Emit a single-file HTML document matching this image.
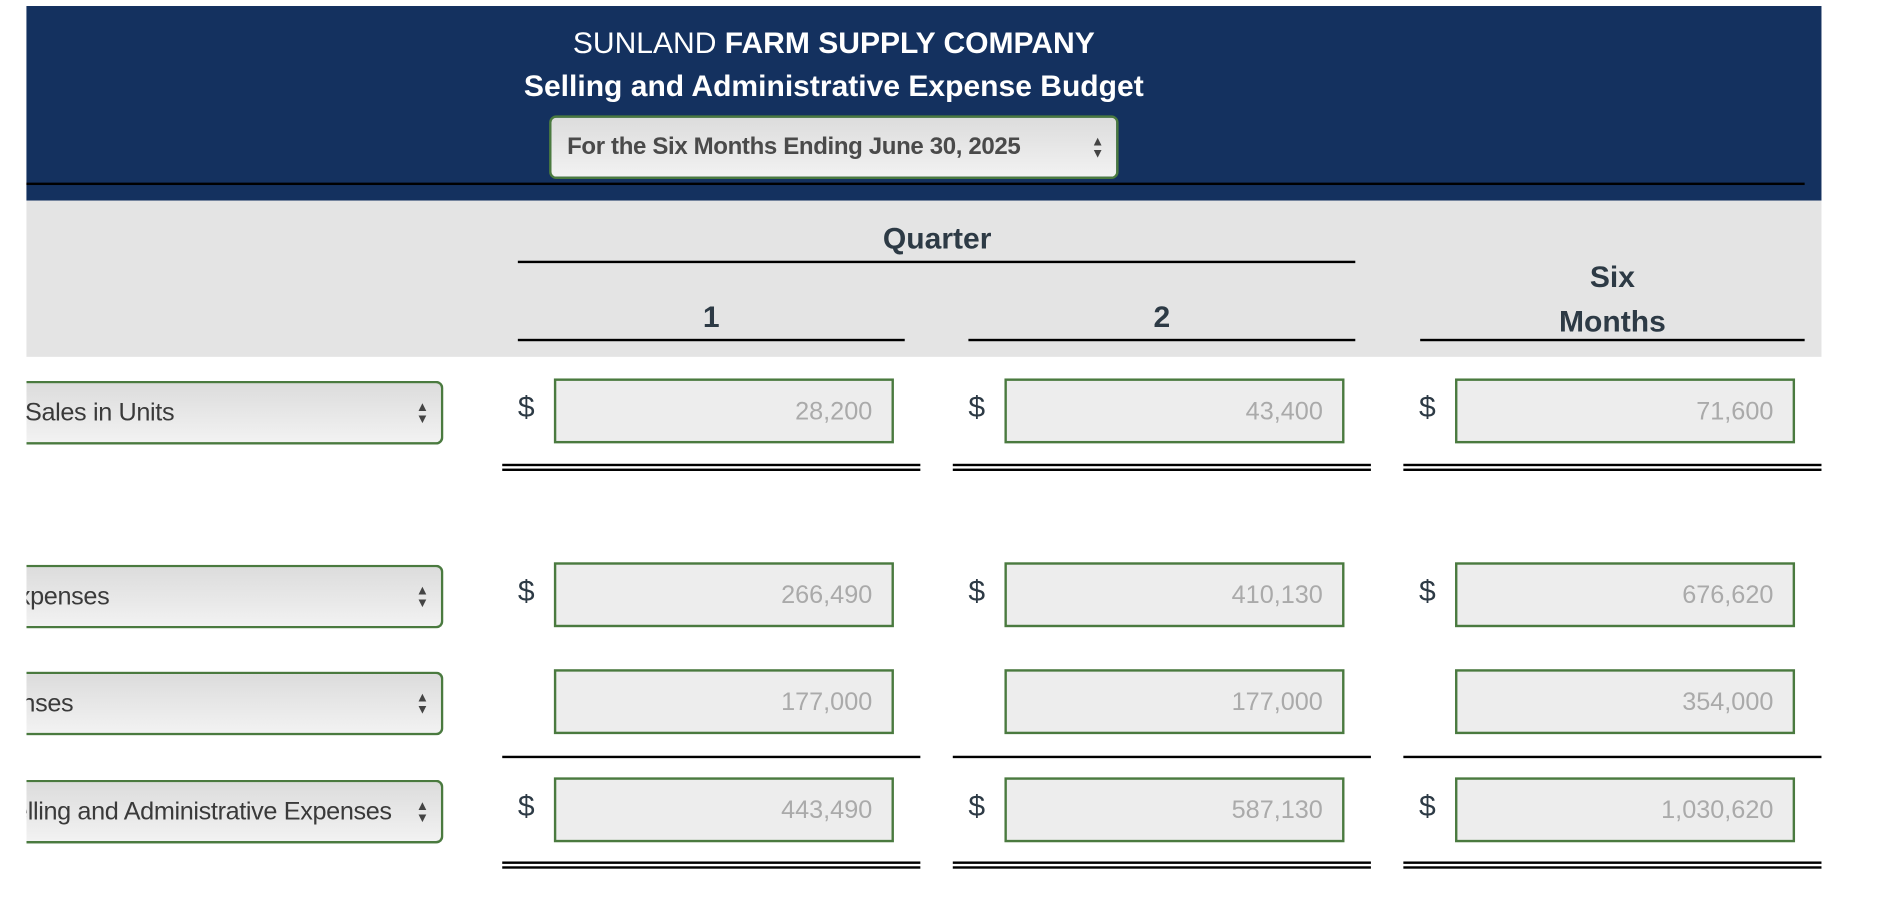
<!DOCTYPE html>
<html><head><meta charset="utf-8">
<style>
html,body{margin:0;padding:0;background:#fff;width:1884px;height:916px;overflow:hidden}
#wrap{position:absolute;left:0;top:0;width:1568px;height:763px;transform:scale(1.2015);transform-origin:0 0;font-family:"Liberation Sans",sans-serif}
.abs{position:absolute}
.hdr{left:22px;top:5px;width:1494px;height:162px;background:#14315f}
.t1{left:300px;width:788px;text-align:center;color:#fff;font-size:25px}
.sel{background:linear-gradient(#dcdcdc,#e8e8e8 55%,#f2f2f2);border:2px solid #4a7a3f;border-radius:6px;box-sizing:border-box;overflow:hidden}
.arrow{position:absolute;right:10px;top:50%;transform:translateY(-50%);font-size:11px;line-height:10px;color:#444;text-align:center}
.band{left:22px;top:167px;width:1494px;height:130px;background:#e4e4e4}
.hd{color:#2d3a45;font-weight:bold;font-size:25px;text-align:center}
.line{background:#000;height:2px}
.box{background:#ededed;border:2px solid #4a7a3f;box-sizing:border-box;color:#aaa;font-size:21px;text-align:right;padding-right:16px}
.dol{color:#2d3a45;font-size:25px}
</style></head><body>
<div id="wrap">
<div class="abs hdr"></div>
<div class="abs t1" style="top:22px">SUNLAND <b>FARM SUPPLY COMPANY</b></div>
<div class="abs t1" style="top:58px;font-weight:bold">Selling and Administrative Expense Budget</div>
<div class="abs sel" style="left:457px;top:96px;width:474px;height:53px">
<span class="abs" style="left:13px;top:13px;font-size:20px;font-weight:bold;color:#4a4a4a;white-space:nowrap;letter-spacing:-0.3px">For the Six Months Ending June 30, 2025</span>
<span class="arrow">▲<br>▼</span></div>
<div class="abs line" style="left:22px;top:152px;width:1480px"></div>
<div class="abs band"></div>
<div class="abs hd" style="left:680px;width:200px;top:185px">Quarter</div>
<div class="abs line" style="left:431px;top:217px;width:697px"></div>
<div class="abs hd" style="left:431px;width:322px;top:250px">1</div>
<div class="abs hd" style="left:806px;width:322px;top:250px">2</div>
<div class="abs hd" style="left:1182px;width:320px;top:213px;line-height:37px">Six<br>Months</div>
<div class="abs line" style="left:431px;top:282px;width:322px"></div>
<div class="abs line" style="left:806px;top:282px;width:322px"></div>
<div class="abs line" style="left:1182px;top:282px;width:320px"></div>
<div id="rows"></div>
</div>
<script>
const labels=["Budgeted Sales in Units","Variable Expenses","Fixed Expenses","Total Selling and Administrative Expenses"];
const q1Values=["28,200","266,490","177,000","443,490"];
const q2Values=["43,400","410,130","177,000","587,130"];
const sixValues=["71,600","676,620","354,000","1,030,620"];
const showDollar=[true,true,false,true];
const rowTops=[315,468,557,647];
const labelRight=[222,276,306,41];
const colBox=[461,836,1211], colDol=[431,806,1181], colLine=[418,793,1168];
const rules=[{top:386,dbl:true},{top:629,dbl:false},{top:717,dbl:true}];
const root=document.getElementById('rows');
const cols=[q1Values,q2Values,sixValues];
labels.forEach((lab,i)=>{
  const t=rowTops[i];
  const s=document.createElement('div');
  s.className='abs sel';
  s.style.cssText=`left:22px;top:${t+2}px;width:347px;height:53px;border-left:none;border-radius:0 6px 6px 0`;
  
  
  s.innerHTML=`<span style="position:absolute;right:${labelRight[i]}px;top:13px;font-size:21px;color:#3a3a3a;white-space:nowrap;letter-spacing:-0.3px">${lab}</span><span class="arrow">▲<br>▼</span>`;
  root.appendChild(s);
  cols.forEach((vals,c)=>{
    if(showDollar[i]){
      const d=document.createElement('div');
      d.className='abs dol';
      d.style.cssText=`left:${colDol[c]}px;top:${t+10}px`;
      
      
      d.textContent='$';
      root.appendChild(d);
    }
    const b=document.createElement('div');
    b.className='abs box';
    b.style.cssText=`left:${colBox[c]}px;top:${t}px;width:283px;height:54px;line-height:52px`;
    
    
    b.textContent=vals[i];
    root.appendChild(b);
  });
});
rules.forEach(r=>{
  colLine.forEach(x=>{
    const l=document.createElement('div');
    l.className='abs line';
    l.style.cssText=`left:${x}px;top:${r.top}px;width:348px`;
    
    
    root.appendChild(l);
    if(r.dbl){
      const l2=document.createElement('div');
      l2.className='abs line';
      l2.style.cssText=`left:${x}px;top:${r.top+4}px;width:348px`;
      
      
      root.appendChild(l2);
    }
  });
});
</script>
</body></html>
